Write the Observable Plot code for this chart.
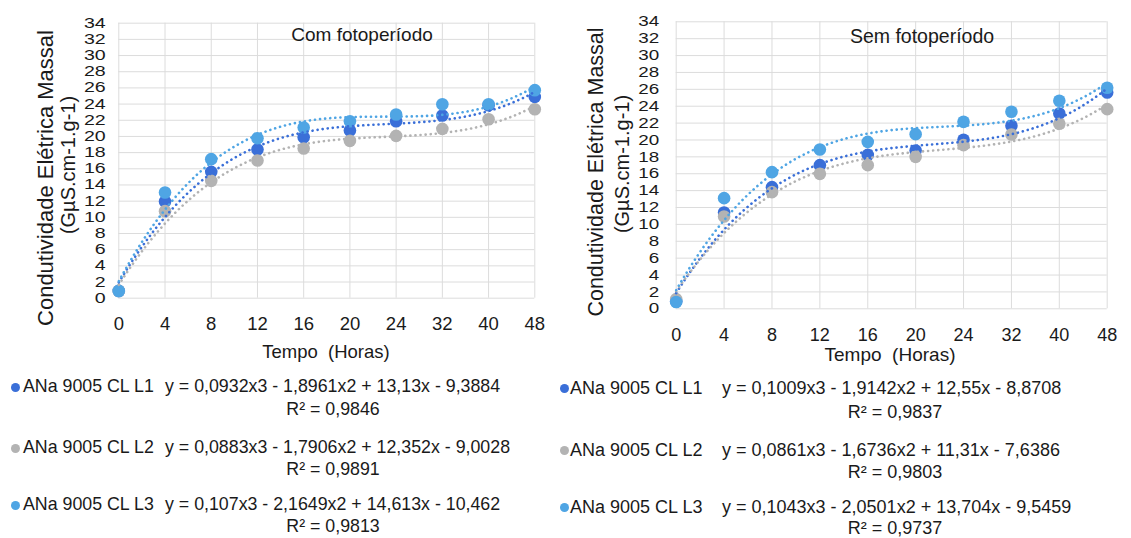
<!DOCTYPE html>
<html>
<head>
<meta charset="utf-8">
<script src="https://cdn.jsdelivr.net/npm/d3@7"></script>
<script src="https://cdn.jsdelivr.net/npm/@observablehq/plot@0.6"></script>
<style>
  html, body { margin: 0; padding: 0; background: #fff; }
  #root { position: relative; width: 1131px; height: 538px; overflow: hidden;
          font-family: "Liberation Sans", Arial, sans-serif; color: #1a1a1a; }
  .abs { position: absolute; white-space: pre; line-height: 1; }
  svg { font-family: "Liberation Sans", Arial, sans-serif; }
</style>
</head>
<body>
<div id="root"></div>
<script>
// ---------- data ----------
const hours = ["0", "4", "8", "12", "16", "20", "24", "32", "40", "48"];
const yTicks = [0, 2, 4, 6, 8, 10, 12, 14, 16, 18, 20, 22, 24, 26, 28, 30, 32, 34];
const seriesNames = ["ANa 9005 CL L1", "ANa 9005 CL L2", "ANa 9005 CL L3"];
const seriesColors = ["#3a6fd8", "#b3b3b3", "#4fa5e4"];

// Com fotoperíodo
const comL1 = [0.9, 11.95, 15.62, 18.38, 19.90, 20.73, 21.88, 22.58, 23.85, 24.89];
const comL2 = [0.9, 10.76, 14.51, 17.02, 18.50, 19.45, 20.07, 20.94, 22.13, 23.37];
const comL3 = [0.9, 13.06, 17.19, 19.78, 21.10, 21.88, 22.71, 23.98, 23.98, 25.72];
const comCoef = [
  [0.0932, -1.8961, 13.13, -9.3884],
  [0.0883, -1.7906, 12.352, -9.0028],
  [0.107, -2.1649, 14.613, -10.462]
];
const comR2 = ["0,9846", "0,9891", "0,9813"];

// Sem fotoperíodo
const semL1 = [0.9, 11.41, 14.41, 17.02, 18.24, 18.76, 20.02, 21.68, 23.14, 25.63];
const semL2 = [1.15, 10.94, 13.82, 15.99, 17.02, 18.00, 19.39, 20.65, 21.92, 23.65];
const semL3 = [0.8, 13.11, 16.19, 18.88, 19.78, 20.69, 22.15, 23.34, 24.64, 26.18];
const semCoef = [
  [0.1009, -1.9142, 12.55, -8.8708],
  [0.0861, -1.6736, 11.31, -7.6386],
  [0.1043, -2.0501, 13.704, -9.5459]
];
const semR2 = ["0,9837", "0,9803", "0,9737"];

const yTitle1 = "Condutividade Elétrica Massal";
const yTitle2 = "(GµS.cm-1.g-1)";
const xTitle = "Tempo  (Horas)";
const titles = ["Com fotoperíodo", "Sem fotoperíodo"];

// ---------- helpers ----------
const root = document.getElementById("root");
function fmt(v) { return String(Math.abs(v)).replace(".", ","); }
function equation(c) {
  const s = v => (v < 0 ? " - " : " + ");
  return "y = " + fmt(c[0]) + "x3" + s(c[1]) + fmt(c[1]) + "x2" + s(c[2]) + fmt(c[2]) + "x" + s(c[3]) + fmt(c[3]);
}
function rows(values) {
  return values.map((v, i) => ({i: i + 1, v}));
}
function trend(c) {
  const pts = [];
  for (let k = 0; k <= 90; k++) {
    const x = 1 + k / 10;
    pts.push({x, y: c[0] * x ** 3 + c[1] * x ** 2 + c[2] * x + c[3]});
  }
  return pts;
}
function addText(txt, css) {
  const d = document.createElement("div");
  d.className = "abs";
  d.textContent = txt;
  Object.assign(d.style, css);
  root.appendChild(d);
  return d;
}

function panel(cfg) {
  const series = cfg.series;
  const marks = [
    Plot.gridY(yTicks, {stroke: "#dcdcdc", strokeOpacity: 1, strokeWidth: 1}),
    Plot.gridX(d3.range(1, 11), {stroke: "#dcdcdc", strokeOpacity: 1, strokeWidth: 1}),
    Plot.axisY(yTicks, {tickSize: 0, tickPadding: cfg.yPad, fontSize: cfg.yFont, fill: "#1a1a1a"}),
    Plot.axisX(d3.range(1, 11), {tickSize: 0, tickPadding: 19, fontSize: cfg.xFont, fill: "#1a1a1a",
      tickFormat: i => hours[i - 1]})
  ];
  series.forEach((s, k) => {
    marks.push(Plot.dot(rows(s), {x: "i", y: "v", r: 6.3, fill: seriesColors[k], stroke: "none"}));
  });
  cfg.coef.forEach((c, k) => {
    marks.push(Plot.line(trend(c), {x: "x", y: "y", stroke: seriesColors[k], strokeWidth: 2.6,
      strokeDasharray: "0.1,5", strokeLinecap: "round", curve: "linear"}));
  });
  const chart = Plot.plot({
    width: cfg.width, height: cfg.height,
    marginLeft: cfg.ml, marginRight: cfg.mr, marginTop: cfg.mt, marginBottom: cfg.mb,
    x: {type: "linear", domain: [1, 10], axis: null},
    y: {domain: [0, 34], axis: null},
    style: {background: "transparent", overflow: "visible"},
    marks
  });
  chart.style.position = "absolute";
  chart.style.left = cfg.left + "px";
  chart.style.top = "0px";
  root.appendChild(chart);
  // widen the y tick labels horizontally (anchored at their right edge), as in the reference
  chart.querySelectorAll('[aria-label="y-axis tick label"] text').forEach(el => {
    const b = el.getBBox();
    const bx = b.x + b.width;
    const t = el.getAttribute("transform") || "";
    el.setAttribute("transform", `${t} translate(${bx},0) scale(${cfg.ySx},1) translate(${-bx},0)`);
  });
}

// left panel
panel({series: [comL1, comL2, comL3], coef: comCoef, left: 0, width: 560, height: 340,
  ml: 118.3, mr: 25.7, mt: 22.7, mb: 42.3, yPad: 13, yFont: 14, ySx: 1.4, xFont: 18.5});
// right panel
panel({series: [semL1, semL2, semL3], coef: semCoef, left: 560, width: 571, height: 350,
  ml: 115.7, mr: 24.3, mt: 21.3, mb: 41.7, yPad: 17, yFont: 14.5, ySx: 1.3, xFont: 18});

// titles inside plots
addText(titles[0], {left: "362px", top: "34px", fontSize: "19px", transform: "translate(-50%,-50%)"});
addText(titles[1], {left: "922px", top: "37px", fontSize: "19.5px", transform: "translate(-50%,-50%)"});

// x titles
addText(xTitle, {left: "326px", top: "352px", fontSize: "18.5px", transform: "translate(-50%,-50%)"});
addText(xTitle, {left: "890px", top: "353.5px", fontSize: "19px", transform: "translate(-50%,-50%)"});

// y titles (rotated)
function yTitle(cx1, cy1, f1, cx2, cy2, f2) {
  addText(yTitle1, {left: cx1 + "px", top: cy1 + "px", fontSize: f1 + "px",
    transform: "translate(-50%,-50%) rotate(-90deg)"});
  addText(yTitle2, {left: cx2 + "px", top: cy2 + "px", fontSize: f2 + "px",
    transform: "translate(-50%,-50%) rotate(-90deg)"});
}
yTitle(46, 178, 22, 68, 165, 20);
yTitle(597, 172, 21.5, 622, 164, 20);

// legends
function legend(cfg) {
  seriesNames.forEach((name, k) => {
    const y = cfg.rowY[k];
    const dot = document.createElement("div");
    Object.assign(dot.style, {position: "absolute", left: (cfg.dotX - 4.5) + "px", top: (y - 4.5) + "px",
      width: "9px", height: "9px", borderRadius: "50%", background: seriesColors[k]});
    root.appendChild(dot);
    addText(name, {left: cfg.nameX + "px", top: y + "px", fontSize: cfg.f + "px", transform: "translateY(-50%)"});
    addText(equation(cfg.coef[k]), {left: cfg.eqX + "px", top: y + "px", fontSize: cfg.f + "px", transform: "translateY(-50%)"});
    addText("R² = " + cfg.r2[k], {left: cfg.r2X + "px", top: cfg.r2Y[k] + "px", fontSize: cfg.f + "px",
      transform: "translate(-50%,-50%)"});
  });
}
legend({coef: comCoef, r2: comR2, dotX: 15, nameX: 23, eqX: 165, r2X: 333, f: 17.8,
  rowY: [387, 448, 505], r2Y: [410, 470, 527]});
legend({coef: semCoef, r2: semR2, dotX: 564, nameX: 570, eqX: 722, r2X: 895, f: 18,
  rowY: [388, 450, 507], r2Y: [412, 472, 527.5]});
</script>
</body>
</html>
